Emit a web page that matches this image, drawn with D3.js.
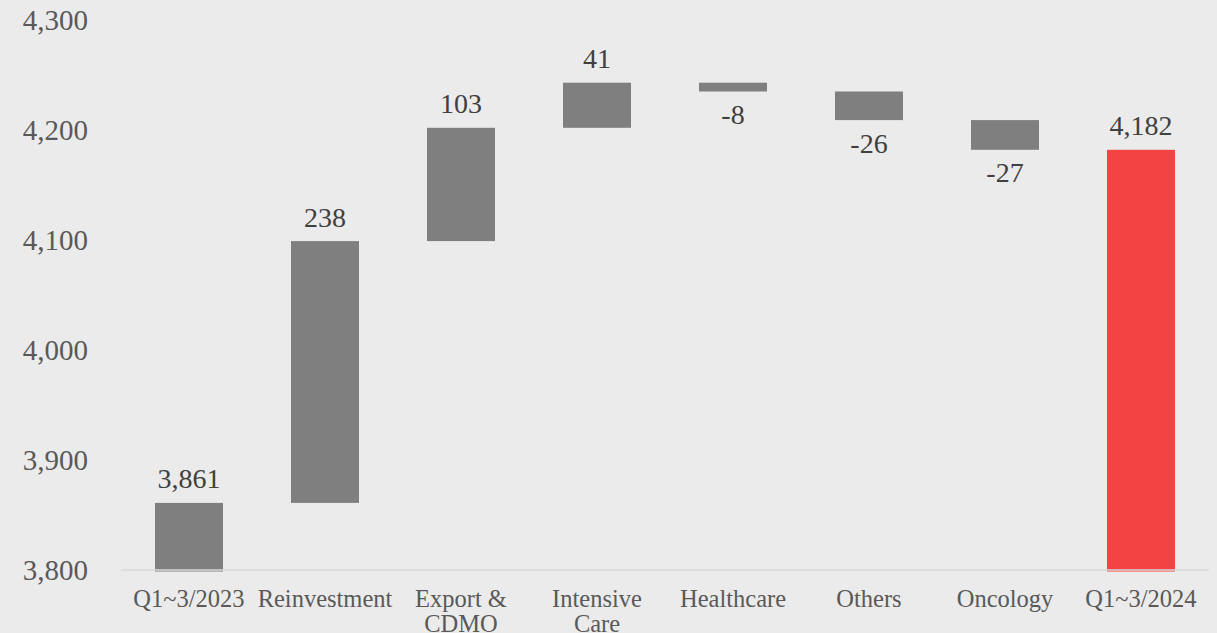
<!DOCTYPE html>
<html lang="en">
<head>
  <meta charset="UTF-8">
  <title>Waterfall</title>
  <script src="https://d3js.org/d3.v7.min.js"></script>
  <style>
    body { margin: 0; background: #ebebeb; }
    text { font-family: "Liberation Serif", serif; fill: #595959; }
  </style>
</head>
<body>
  <div class="canvas"></div>
  <script>
    const categories = ['Q1~3/2023', 'Reinvestment', 'Export & CDMO', 'Intensive Care', 'Healthcare', 'Others', 'Oncology', 'Q1~3/2024'];
    // first and last are totals, the rest are changes
    const changes = [3861, 238, 103, 41, -8, -26, -27, 4182];
    const isTotal = [true, false, false, false, false, false, false, true];
    const yTicks = [3800, 3900, 4000, 4100, 4200, 4300];

    const width = 1217, height = 633;
    const margin = { top: 20, right: 8, bottom: 63, left: 121 };
    const fmt = v => d3.format(',')(v).replace('\u2212', '-');

    const svg = d3.select('.canvas')
      .append('svg')
      .attr('width', width)
      .attr('height', height)
      .style('background', '#ebebeb');

    // running start / end of each step
    let run = 0;
    const bars = categories.map((c, i) => {
      let start, end;
      if (isTotal[i]) { start = 3800; end = changes[i]; run = changes[i]; }
      else { start = run; end = run + changes[i]; run = end; }
      return { name: c, start, end, value: changes[i], total: isTotal[i], last: i === categories.length - 1 };
    });

    const x = d3.scaleBand()
      .domain(categories)
      .range([margin.left, width - margin.right])
      .paddingInner(0.5)
      .paddingOuter(0.25);

    const y = d3.scaleLinear()
      .domain([3800, 4300])
      .range([height - margin.bottom, margin.top]);

    // y tick labels only
    svg.append('g')
      .selectAll('text')
      .data(yTicks)
      .enter()
      .append('text')
      .attr('x', 88)
      .attr('y', d => y(d))
      .attr('dy', '0.34em')
      .attr('text-anchor', 'end')
      .style('font-size', '29px')
      .text(d => fmt(d));

    svg.append('g')
      .selectAll('rect')
      .data(bars)
      .enter()
      .append('rect')
      .attr('x', d => x(d.name))
      .attr('width', x.bandwidth())
      .attr('y', d => y(Math.max(d.start, d.end)))
      .attr('height', d => Math.abs(y(d.start) - y(d.end)) + (d.total ? 1.5 : 0))
      .attr('fill', d => d.last ? '#f44343' : '#7f7f7f');

    // axis line
    svg.append('line')
      .attr('x1', margin.left)
      .attr('x2', width - margin.right)
      .attr('y1', y(3800))
      .attr('y2', y(3800))
      .attr('stroke', '#d9d9d9')
      .attr('stroke-width', 1.5);

    // value labels
    svg.append('g')
      .selectAll('text')
      .data(bars)
      .enter()
      .append('text')
      .attr('x', d => x(d.name) + x.bandwidth() / 2)
      .attr('y', d => d.value < 0 ? y(d.end) + 23 : y(Math.max(d.start, d.end)) - 24)
      .attr('dy', '0.34em')
      .attr('text-anchor', 'middle')
      .style('font-size', '28px')
      .style('fill', '#404040')
      .text(d => fmt(d.value));

    // category labels, wrapped to the band step
    const cat = svg.append('g')
      .selectAll('text')
      .data(categories)
      .enter()
      .append('text')
      .attr('x', d => x(d) + x.bandwidth() / 2)
      .attr('y', y(3800) + 29)
      .attr('dy', '0.34em')
      .attr('text-anchor', 'middle')
      .style('font-size', '24.5px')
      .text(d => d);

    cat.each(function(d) {
      const t = d3.select(this);
      const words = d.split(' ');
      const px = t.attr('x');
      t.text(null);
      let line = [];
      let tspan = t.append('tspan').attr('x', px);
      words.forEach(w => {
        line.push(w);
        tspan.text(line.join(' '));
        if (tspan.node().getComputedTextLength() > x.step() - 6 && line.length > 1) {
          line.pop();
          tspan.text(line.join(' '));
          line = [w];
          tspan = t.append('tspan').attr('x', px).attr('dy', 25).text(w);
        }
      });
    });
  </script>
</body>
</html>
